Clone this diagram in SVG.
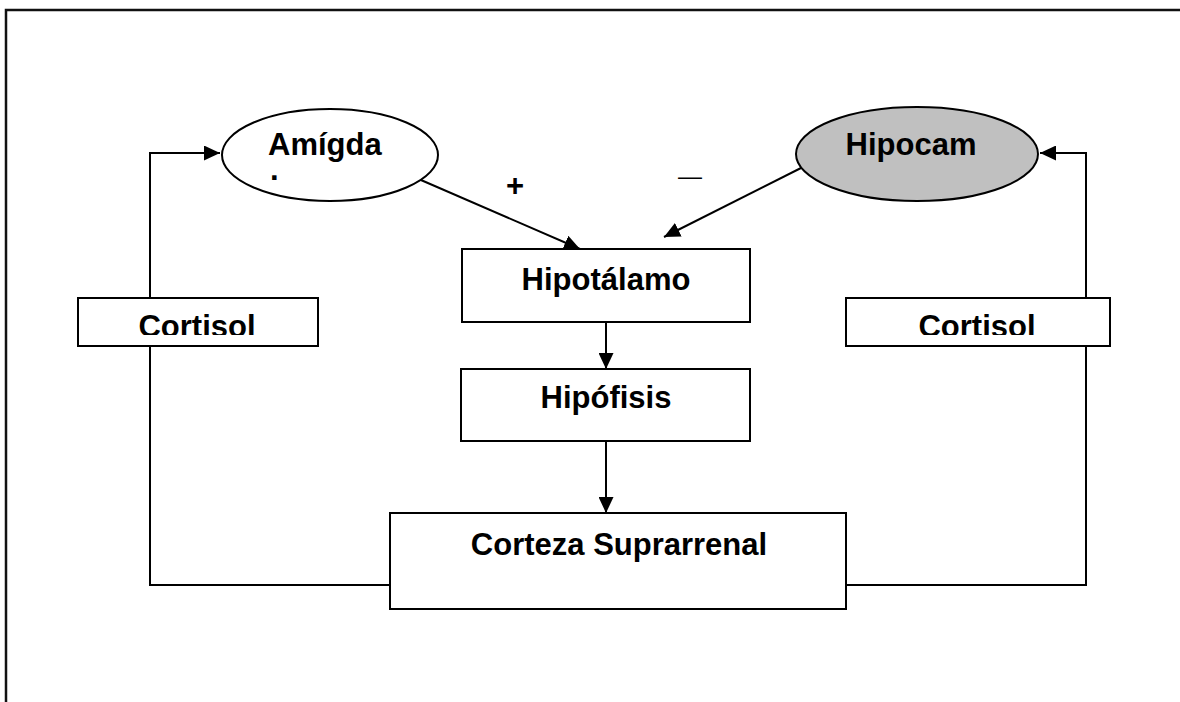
<svg xmlns="http://www.w3.org/2000/svg" width="1180" height="702" viewBox="0 0 1180 702">
<style>
.box{fill:#fff;stroke:#000;stroke-width:2}
.lbl{font-family:"Liberation Sans",Arial,sans-serif;font-weight:bold;font-size:31px;fill:#000}
.con{fill:none;stroke:#000;stroke-width:2}
</style>
<defs>
<marker id="ah" markerUnits="userSpaceOnUse" markerWidth="16" markerHeight="15" refX="16" refY="7.5" orient="auto">
<path d="M0,0 L16,7.5 L0,15 Z" fill="#000"/>
</marker>
<clipPath id="clipL"><rect x="78" y="298" width="240" height="37"/></clipPath>
<clipPath id="clipR"><rect x="846" y="298" width="264" height="37"/></clipPath>
</defs>
<rect width="1180" height="702" fill="#fff"/>
<path id="frame" d="M6,710 L6,10 L1190,10" fill="none" stroke="#111" stroke-width="2.5"/>
<g id="connectors">
<polyline class="con" points="390,585 150,585 150,153 220,153" marker-end="url(#ah)"/>
<polyline class="con" points="846,585 1086,585 1086,153 1040,153" marker-end="url(#ah)"/>
<line class="con" x1="414" y1="177" x2="580" y2="249" marker-end="url(#ah)"/>
<line class="con" x1="801" y1="168" x2="664" y2="237" marker-end="url(#ah)"/>
<line class="con" x1="606" y1="322" x2="606" y2="369" marker-end="url(#ah)"/>
<line class="con" x1="606" y1="441" x2="606" y2="513" marker-end="url(#ah)"/>
<text class="lbl" x="515" y="196" text-anchor="middle">+</text>
<text x="690" y="184" text-anchor="middle" font-family="Liberation Sans, Arial, sans-serif" font-size="24" fill="#000">—</text>
</g>
<g id="cortisol-left">
<rect class="box" x="78" y="298" width="240" height="48"/>
<text class="lbl" x="197" y="337" text-anchor="middle" clip-path="url(#clipL)">Cortisol</text>
</g>
<g id="cortisol-right">
<rect class="box" x="846" y="298" width="264" height="48"/>
<text class="lbl" x="977" y="337" text-anchor="middle" clip-path="url(#clipR)">Cortisol</text>
</g>
<g id="amigdala">
<ellipse cx="330" cy="155" rx="108" ry="46" fill="#fff" stroke="#000" stroke-width="2"/>
<text class="lbl" x="268" y="155">Amígda</text>
<text class="lbl" x="270" y="180" font-size="20">.</text>
</g>
<g id="hipocampo">
<ellipse cx="917" cy="154" rx="121" ry="47" fill="#c0c0c0" stroke="#000" stroke-width="2"/>
<text class="lbl" x="911" y="155" text-anchor="middle">Hipocam</text>
</g>
<g id="hipotalamo">
<rect class="box" x="462" y="249" width="288" height="73"/>
<text class="lbl" x="606" y="290" text-anchor="middle">Hipotálamo</text>
</g>
<g id="hipofisis">
<rect class="box" x="461" y="369" width="289" height="72"/>
<text class="lbl" x="606" y="408" text-anchor="middle">Hipófisis</text>
</g>
<g id="corteza">
<rect class="box" x="390" y="513" width="456" height="96"/>
<text class="lbl" x="619" y="555" text-anchor="middle">Corteza Suprarrenal</text>
</g>
</svg>
